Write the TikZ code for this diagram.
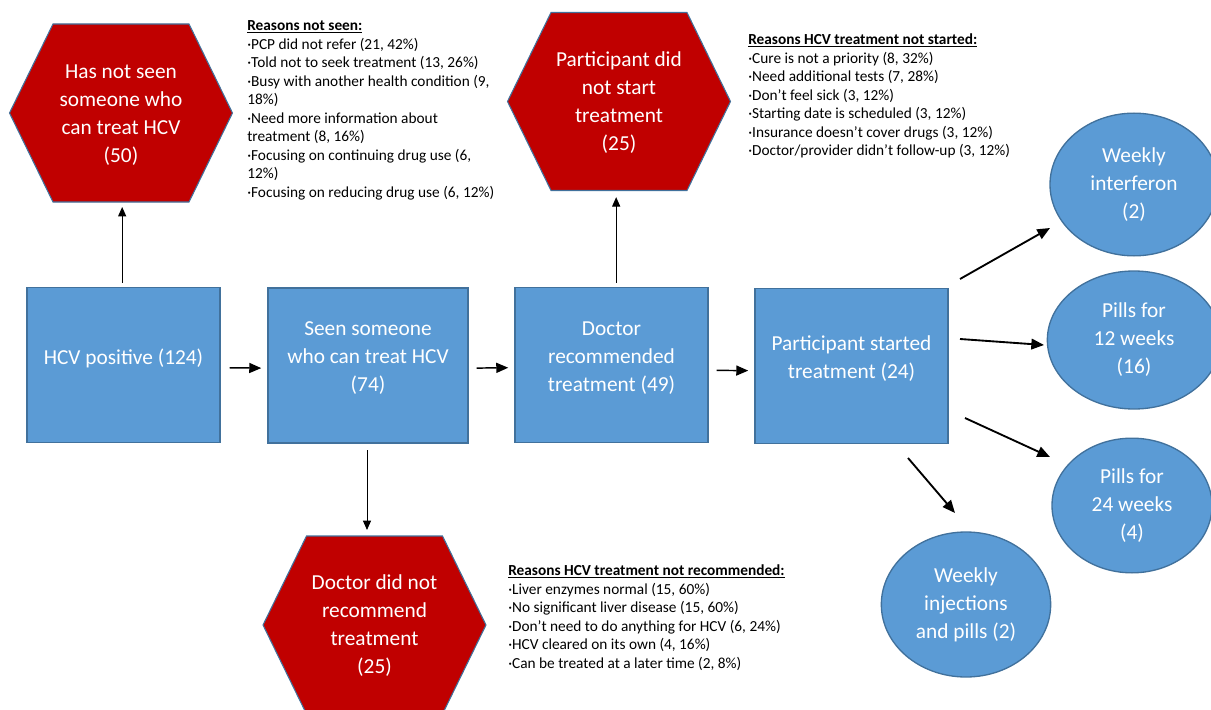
\documentclass[tikz,border=0pt]{standalone}
\usepackage{fontspec}
\setmainfont{Carlito}
\usetikzlibrary{arrows.meta,calc,shapes.geometric}
\definecolor{hexred}{HTML}{C00000}
\definecolor{boxblue}{HTML}{5B9BD5}
\definecolor{edgeblue}{HTML}{41719C}
\newcommand\hexdraw[1]{\filldraw[hexsty] ($(#1)+(-111.5,0)$) -- ++(43.5,-89) -- ++(136,0) -- ++(43.5,89) -- ++(-43.5,89) -- ++(-136,0) -- cycle;}
\begin{document}
\begin{tikzpicture}[x=0.75pt,y=-0.75pt,
  hexsty/.style={fill=hexred, draw=edgeblue, line width=0.8pt},
  bigtext/.style={text=white, align=center, font=\fontsize{16pt}{21pt}\selectfont, inner sep=0pt},
  box/.style={draw=edgeblue, fill=boxblue, line width=1.1pt, minimum width=144.75pt, minimum height=116.25pt, inner sep=0pt},
  boxlabel/.style={bigtext, yshift=5.25pt},
  oval/.style={ellipse, draw=edgeblue, fill=boxblue, line width=1pt, bigtext},
  note/.style={align=left, inner sep=0pt, anchor=north west, font=\fontsize{11.5pt}{13.9pt}\selectfont},
  arr/.style={-{Triangle[length=9pt,width=7.5pt]}, line width=1.1pt},
  arrthin/.style={-{Triangle[length=7pt,width=6pt]}, line width=0.75pt},
  arrdiag/.style={-{Triangle[length=9.5pt,width=8pt]}, line width=1.4pt}
]
\useasboundingbox (0,0) rectangle (1211,710);

% hexagons
\coordinate (h1c) at (121,113);
\coordinate (h2c) at (619,101.5);
\coordinate (h3c) at (374.5,625);
\hexdraw{h1c}
\hexdraw{h2c}
\hexdraw{h3c}
\node[bigtext] (h1) at (121,115) {Has not seen\\someone who\\can treat HCV\\(50)};
\node[bigtext] (h2) at (619,103) {Participant did\\not start\\treatment\\(25)};
\node[bigtext] (h3) at (374.5,626) {Doctor did not\\recommend\\treatment\\(25)};
\coordinate (h1b) at ($(h1c)+(0,89)$);
\coordinate (h2b) at ($(h2c)+(0,89)$);
\coordinate (h3t) at ($(h3c)+(0,-89)$);

% boxes
\node[box, label={[boxlabel]center:HCV positive (124)}] (b1) at (123.5,365) {};
\node[box, minimum width=150pt, label={[boxlabel]center:Seen someone\\who can treat HCV\\(74)}] (b2) at (368,365.5) {};
\node[box, label={[boxlabel]center:Doctor\\recommended\\treatment (49)}] (b3) at (611.5,365) {};
\node[box, label={[boxlabel]center:Participant started\\treatment (24)}] (b4) at (851.5,366) {};

% ellipses
\node[oval, minimum width=126pt, minimum height=107pt] (e1) at (1134,184.5) {Weekly\\interferon\\(2)};
\node[oval, minimum width=130pt, minimum height=103.5pt] (e2) at (1134,340) {Pills for\\12 weeks\\(16)};
\node[oval, minimum width=120pt, minimum height=101pt] (e3) at (1132,505.5) {Pills for\\24 weeks\\(4)};
\node[oval, minimum width=127pt, minimum height=108.75pt] (e4) at (966,604.5) {Weekly\\injections\\and pills (2)};

% notes
\node[note] (n1) at (247,20.5) {\underline{\textbf{Reasons not seen:}}\\
·PCP did not refer (21, 42\%)\\
·Told not to seek treatment (13, 26\%)\\
·Busy with another health condition (9,\\
18\%)\\
·Need more information about\\
treatment (8, 16\%)\\
·Focusing on continuing drug use (6,\\
12\%)\\
·Focusing on reducing drug use (6, 12\%)};
\node[note] (n2) at (748,33.5) {\underline{\textbf{Reasons HCV treatment not started:}}\\
·Cure is not a priority (8, 32\%)\\
·Need additional tests (7, 28\%)\\
·Don’t feel sick (3, 12\%)\\
·Starting date is scheduled (3, 12\%)\\
·Insurance doesn’t cover drugs (3, 12\%)\\
·Doctor/provider didn’t follow-up (3, 12\%)};
\node[note] (n3) at (508,564.5) {\underline{\textbf{Reasons HCV treatment not recommended:}}\\
·Liver enzymes normal (15, 60\%)\\
·No significant liver disease (15, 60\%)\\
·Don’t need to do anything for HCV (6, 24\%)\\
·HCV cleared on its own (4, 16\%)\\
·Can be treated at a later time (2, 8\%)};

% connectors
\draw[arrthin, shorten <=3pt, shorten >=3.75pt] ([xshift=-1pt]b1.north) -- ([xshift=-1pt]b1.north |- h1b);
\draw[arrthin, shorten <=3pt, shorten >=5pt] ([xshift=3.5pt]b3.north) -- ([xshift=3.5pt]b3.north |- h2b);
\draw[arrthin, shorten <=5pt, shorten >=4.5pt] ([xshift=-0.75pt]b2.south) -- ([xshift=-0.75pt]b2.south |- h3t);
\draw[arr, shorten <=6.75pt, shorten >=4.5pt] ([yshift=-2pt]b1.east) -- ([yshift=-2pt]b2.west);
\draw[arr, shorten <=6pt, shorten >=4.5pt] ([yshift=-2pt]b2.east) -- ([yshift=-2pt]b3.west);
\draw[arr, shorten <=6pt, shorten >=4.5pt] ([yshift=-4pt]b3.east) -- ([yshift=-3.5pt]b4.west);
\coordinate (d1s) at (960,279);
\coordinate (d1e) at (1050,228);
\coordinate (d2s) at (960,339);
\coordinate (d2e) at (1044,345);
\coordinate (d3s) at (965,418);
\coordinate (d3e) at (1050,457);
\coordinate (d4s) at (908,458);
\coordinate (d4e) at (955,513);
\draw[arrdiag] (d1s) -- (d1e);
\draw[arrdiag] (d2s) -- (d2e);
\draw[arrdiag] (d3s) -- (d3e);
\draw[arrdiag] (d4s) -- (d4e);
\end{tikzpicture}
\end{document}
